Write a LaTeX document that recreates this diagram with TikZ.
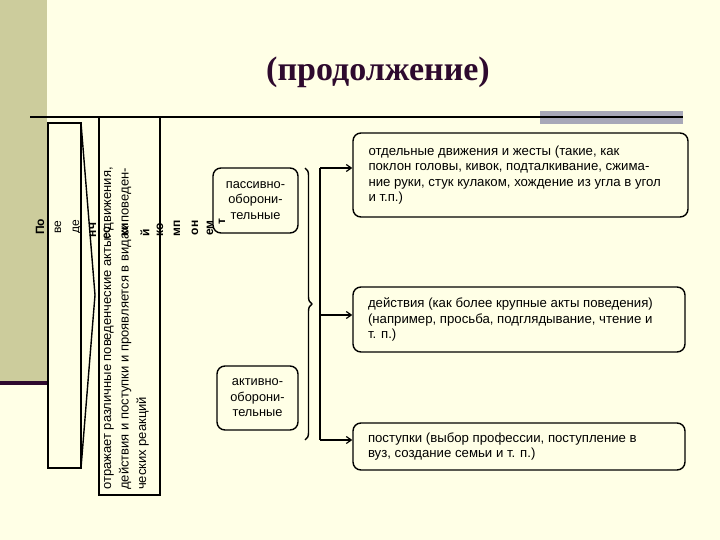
\documentclass[tikz,border=0pt]{standalone}
\usepackage{fontspec}
\setmainfont{Liberation Sans}
\newfontfamily\titlefont{Liberation Serif}
\usetikzlibrary{decorations.pathreplacing,arrows.meta}
\definecolor{bgc}{HTML}{FFFFE6}
\definecolor{olive}{HTML}{CCCC9C}
\definecolor{purp}{HTML}{2E0A2E}
\definecolor{grayb}{HTML}{A8A8B8}
\tikzset{
 rbox/.style={draw,line width=1.4pt,rounded corners=8pt,align=left,inner sep=0pt,font=\fontsize{13.2}{15.5}\selectfont},
 sbox/.style={draw,line width=1.4pt,rounded corners=8pt,align=center,font=\fontsize{12.8}{15.5}\selectfont},
 frag/.style={rotate=90,font=\fontsize{12}{12}\selectfont\bfseries,inner sep=0pt},
 conn/.style={line width=1.2pt},
 arr/.style={line width=1.2pt,-{Straight Barb[length=5pt,width=7pt]}}
}
\begin{document}
\begin{tikzpicture}[x=1pt,y=-1pt]
\useasboundingbox (0,0) rectangle (720,540);
\fill[bgc] (0,0) rectangle (720,540);
\fill[olive] (0,0) rectangle (47,383);
\fill[purp] (0,381) rectangle (47,385);
\fill[grayb] (540,111) rectangle (683,124);
\draw[line width=1.3pt] (30,117) -- (683,117);
\node[text=purp,font=\titlefont\fontsize{34}{34}\selectfont\bfseries] (title) at (378,72) {(продолжение)};
% left boxes
\draw[line width=1.4pt] (48,123) rectangle (81,468);
\draw[line width=1.4pt] (81,123) -- (95,295) -- (81,468);
\draw[line width=1.4pt] (99,117) rectangle (160,495);
\node[rotate=90,align=left,anchor=north west,inner sep=0pt,font=\fontsize{13}{17.5}\selectfont] (desc) at (104,490) {отражает различные поведенческие акты: движения,\\действия и поступки и проявляется в видах поведен-\\ческих реакций};
% fragments
\foreach \t/\x/\y/\b in {По/40/227/1,ве/58/227/0,де/77/227/0,нч/93/230/1,ес/107/233/1,ки/125/230/1,й/145/233/1,ко/160/230/1,мп/177/228/1,он/195/228/1,ем/210/228/1,т/222/222/1}{
 \ifnum\b=1 \node[frag] at (\x,\y) {\t};\else \node[frag,font=\fontsize{12}{12}\selectfont] at (\x,\y) {\t};\fi
}
\node[sbox,minimum width=85pt,minimum height=65pt] (pas) at (255.5,200.5) {пассивно-\\оборони-\\тельные};
\node[sbox,minimum width=81pt,minimum height=64pt] (act) at (257.5,398) {активно-\\оборони-\\тельные};
\draw[line width=1.4pt,decorate,decoration={brace,amplitude=7pt,aspect=0.5}] (305,168) -- (305,440);
\node[rbox,minimum width=335pt,minimum height=84pt] (A) at (520.5,175) {\hspace*{14pt}\parbox{318pt}{отдельные движения и жесты (такие, как\\поклон головы, кивок, подталкивание, сжима-\\ние руки, стук кулаком, хождение из угла в угол\\и т.п.)}};
\node[rbox,minimum width=332pt,minimum height=65pt] (B) at (519,319.5) {\hspace*{14pt}\parbox{316pt}{действия (как более крупные акты поведения)\\(например, просьба, подглядывание, чтение и\\т. п.)}};
\node[rbox,minimum width=332pt,minimum height=47pt] (C) at (519,446.5) {\hspace*{14pt}\parbox{316pt}{поступки (выбор профессии, поступление в\\вуз, создание семьи и т. п.)}};
\coordinate (top) at (320,168);
\coordinate (bot) at (320,440);
\draw[conn] (top) -- (bot);
\draw[arr] (top) -- (A.west |- top);
\draw[arr] (320,315) -- (B.west |- 0,315);
\draw[arr] (bot) -- (C.west |- bot);
\end{tikzpicture}
\end{document}
